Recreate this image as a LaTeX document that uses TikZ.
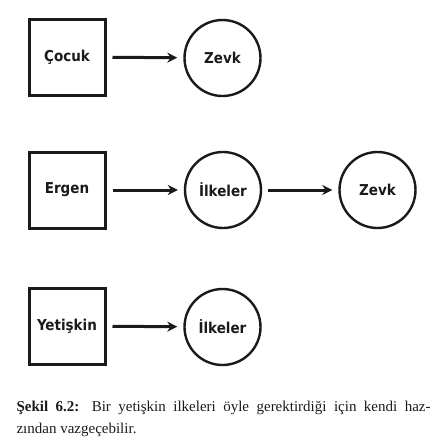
\documentclass[tikz,border=0pt]{standalone}
\usepackage{fontspec}
\setmainfont{Liberation Serif}
\newfontfamily\boxfont{DejaVu Sans Condensed}
\usetikzlibrary{arrows.meta}
\definecolor{ink}{HTML}{1A1A1A}
\tikzset{
  stagebox/.style={draw=ink,line width=3pt,minimum size=76pt,text=ink,
                   font=\boxfont\bfseries\fontsize{15}{17}\selectfont},
  aimcircle/.style={circle,draw=ink,line width=2.4pt,minimum size=76pt,text=ink,
                    font=\boxfont\bfseries\fontsize{15}{17}\selectfont},
  leadarrow/.style={-{Stealth[length=10pt,width=10pt]},draw=ink,line width=3pt,
                    shorten <=6pt,shorten >=6pt},
  caption/.style={anchor=north west,align=left,text=ink,
                  font=\fontsize{15}{22}\selectfont},
}

\begin{document}
\begin{tikzpicture}
\path[use as bounding box] (0pt,0pt) rectangle (438pt,-448pt);

% Child
\node[stagebox] (child) at (67pt,-57pt) {Çocuk};
\node[aimcircle] (joy1) at (222.5pt,-58pt) {Zevk};
\draw[leadarrow] (child) -- (joy1);

% Adolescent: principles still serve pleasure
\node[stagebox] (teen) at (67pt,-190pt) {Ergen};
\node[aimcircle] (rule2) at (223pt,-190pt) {İlkeler};
\node[aimcircle] (joy2) at (377.5pt,-190pt) {Zevk};
\draw[leadarrow] (teen) -- (rule2);
\draw[leadarrow] (rule2) -- (joy2);

% Adult
\node[stagebox] (adult) at (67pt,-326pt) {Yetişkin};
\node[aimcircle] (rule3) at (222.5pt,-327pt) {İlkeler};
\draw[leadarrow] (adult) -- (rule3);

\node[caption] (legend) at (13pt,-398pt)
  {\makebox[414pt][s]{\textbf{Şekil 6.2:} Bir yetişkin ilkeleri öyle gerektirdiği için kendi haz-}\\
   zından vazgeçebilir.};
\end{tikzpicture}
\end{document}
